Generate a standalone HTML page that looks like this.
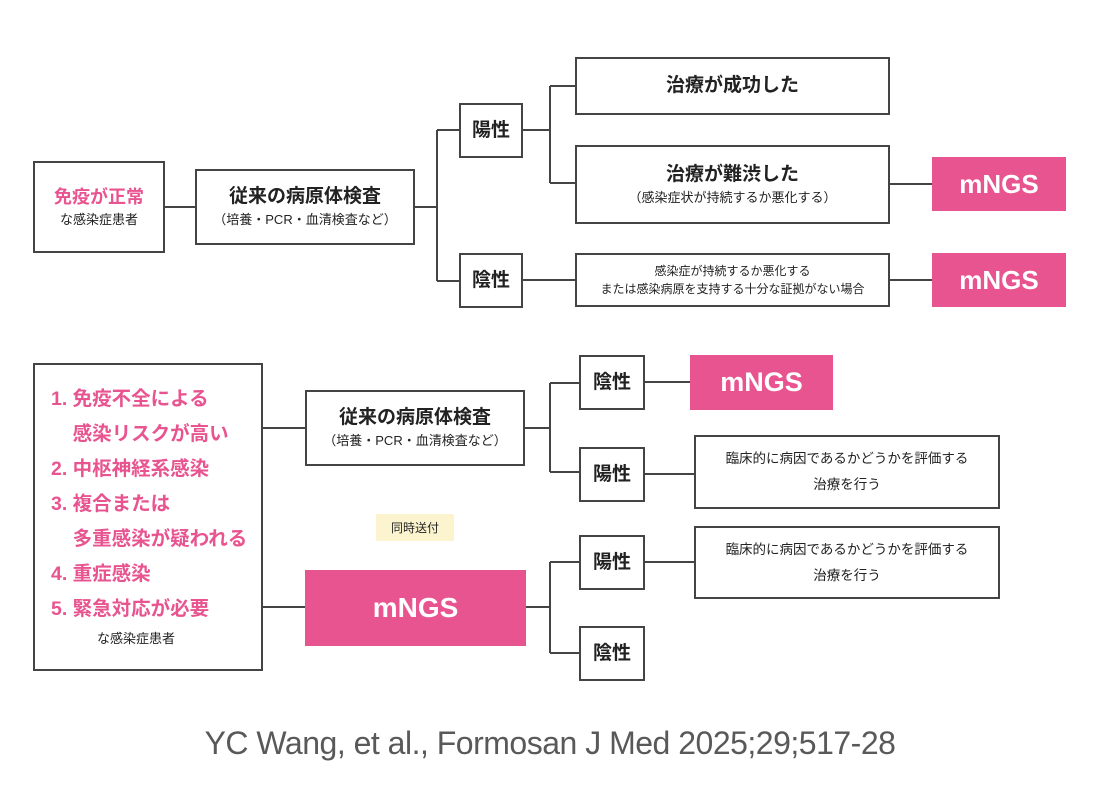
<!DOCTYPE html>
<html><head><meta charset="utf-8"><style>
body{margin:0;width:1100px;height:800px;background:#fff;position:relative;overflow:hidden;font-family:"Liberation Sans","Noto Sans CJK JP",sans-serif;color:#222}
.b{position:absolute;box-sizing:border-box;border:2px solid #444;background:#fff;display:flex;flex-direction:column;align-items:center;justify-content:center;text-align:center}
.p{position:absolute;background:#e85490;color:#fff;font-weight:bold;display:flex;align-items:center;justify-content:center}
.t{font-weight:bold;font-size:19px;line-height:26px}
.s{font-size:13px;line-height:20px}
.pk{color:#e85490;font-weight:bold}
svg{position:absolute;left:0;top:0}
</style></head><body>
<svg width="1100" height="800"><g stroke="#444" stroke-width="2" fill="none">
<path d="M165 207H195M415 207H437M437 130V281M437 130H459M437 281H459M523 130H550M550 86V183M550 86H575M550 183H575M889 184H932M523 280H575M889 280H932"/>
<path d="M262 428H305M525 428H550M550 383V472M550 383H579M550 472H579M645 382H690M645 474H694"/>
<path d="M262 607H305M525 607H550M550 562V653M550 562H579M550 653H579M645 562H694"/>
</g></svg>
<div class="b" style="left:33px;top:161px;width:132px;height:92px"><div class="pk" style="font-size:18px;line-height:26px">免疫が正常</div><div class="s">な感染症患者</div></div>
<div class="b" style="left:195px;top:169px;width:220px;height:76px"><div class="t">従来の病原体検査</div><div class="s">（培養・PCR・血清検査など）</div></div>
<div class="b" style="left:459px;top:103px;width:64px;height:55px"><div class="t">陽性</div></div>
<div class="b" style="left:459px;top:253px;width:64px;height:55px"><div class="t">陰性</div></div>
<div class="b" style="left:575px;top:57px;width:315px;height:58px"><div class="t">治療が成功した</div></div>
<div class="b" style="left:575px;top:145px;width:315px;height:79px"><div class="t">治療が難渋した</div><div class="s">（感染症状が持続するか悪化する）</div></div>
<div class="b" style="left:575px;top:253px;width:315px;height:54px"><div style="font-size:12px;line-height:18px">感染症が持続するか悪化する<br>または感染病原を支持する十分な証拠がない場合</div></div>
<div class="p" style="left:932px;top:157px;width:134px;height:54px;font-size:26px">mNGS</div>
<div class="p" style="left:932px;top:253px;width:134px;height:54px;font-size:26px">mNGS</div>

<div class="b" style="left:33px;top:363px;width:230px;height:308px;align-items:flex-start;justify-content:flex-start;padding:17px 0 0 16px;text-align:left">
<div class="pk" style="font-size:19.5px;line-height:35px">1. 免疫不全による<br>&nbsp;&nbsp;&nbsp;&nbsp;感染リスクが高い<br>2. 中枢神経系感染<br>3. 複合または<br>&nbsp;&nbsp;&nbsp;&nbsp;多重感染が疑われる<br>4. 重症感染<br>5. 緊急対応が必要</div>
<div class="s" style="margin-left:46px;margin-top:2px">な感染症患者</div></div>
<div class="b" style="left:305px;top:390px;width:220px;height:76px"><div class="t">従来の病原体検査</div><div class="s">（培養・PCR・血清検査など）</div></div>
<div class="b" style="left:579px;top:355px;width:66px;height:55px"><div class="t">陰性</div></div>
<div class="b" style="left:579px;top:447px;width:66px;height:55px"><div class="t">陽性</div></div>
<div class="p" style="left:690px;top:355px;width:143px;height:55px;font-size:27px">mNGS</div>
<div class="b" style="left:694px;top:435px;width:306px;height:74px"><div style="font-size:13.5px;line-height:26px">臨床的に病因であるかどうかを評価する<br>治療を行う</div></div>
<div style="position:absolute;left:376px;top:514px;width:78px;height:27px;background:#fbf4cf;font-size:12px;display:flex;align-items:center;justify-content:center">同時送付</div>
<div class="p" style="left:305px;top:570px;width:221px;height:76px;font-size:28px">mNGS</div>
<div class="b" style="left:579px;top:535px;width:66px;height:55px"><div class="t">陽性</div></div>
<div class="b" style="left:579px;top:626px;width:66px;height:55px"><div class="t">陰性</div></div>
<div class="b" style="left:694px;top:526px;width:306px;height:73px"><div style="font-size:13.5px;line-height:26px">臨床的に病因であるかどうかを評価する<br>治療を行う</div></div>
<div style="position:absolute;left:0;width:1100px;top:725px;text-align:center;font-size:32px;color:#595959;letter-spacing:-0.5px">YC Wang, et al., Formosan J Med 2025;29;517-28</div>
</body></html>
